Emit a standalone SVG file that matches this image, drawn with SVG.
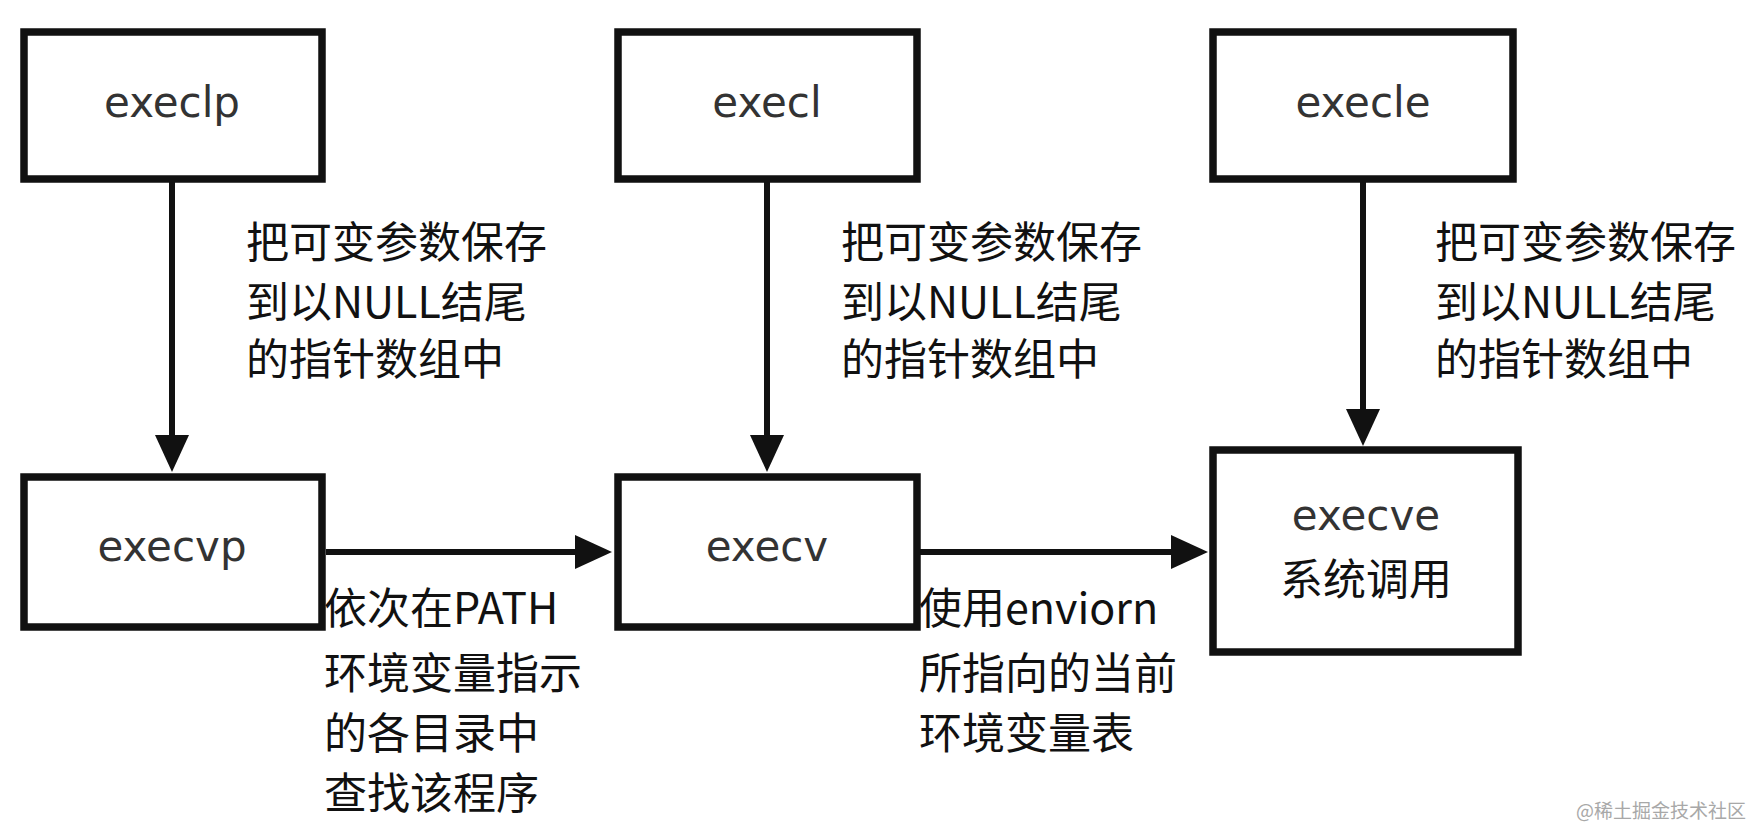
<svg xmlns="http://www.w3.org/2000/svg" width="1750" height="829" viewBox="0 0 1750 829">
<style>
.box{fill:#fff;stroke:#111;stroke-width:7.5}
.nt{font-family:"DejaVu Sans","Noto Sans",sans-serif;font-size:42px;fill:#333;text-anchor:middle}
.lb{font-family:"DejaVu Sans","Noto Sans CJK SC",sans-serif;font-size:43px;fill:#111}
.cj{font-family:"Noto Sans CJK SC",sans-serif;font-size:43px;fill:#111}
.edge{stroke:#111;stroke-width:6;fill:none}
.wm{font-family:"Noto Sans CJK SC",serif;font-size:19px;fill:#a8a8a8;text-anchor:end}
</style>
<defs>
<marker id="ah" markerUnits="userSpaceOnUse" markerWidth="38" markerHeight="36" refX="7" refY="17" orient="auto">
<path d="M0,0 L37,17 L0,34 Z" fill="#111"/>
</marker>
</defs>
<rect width="1750" height="829" fill="#fff"/>
<g id="connectors">
<line class="edge" x1="172" y1="182" x2="172" y2="442" marker-end="url(#ah)"/>
<line class="edge" x1="767" y1="182" x2="767" y2="442" marker-end="url(#ah)"/>
<line class="edge" x1="1363" y1="182" x2="1363" y2="416" marker-end="url(#ah)"/>
<line class="edge" x1="326" y1="552" x2="582" y2="552" marker-end="url(#ah)"/>
<line class="edge" x1="920" y1="552" x2="1178" y2="552" marker-end="url(#ah)"/>
</g>
<g id="labels">
<text class="cj" x="246" y="258">把可变参数保存</text>
<text class="cj" x="246" y="318">到以NULL结尾</text>
<text class="cj" x="246" y="375">的指针数组中</text>
<text class="cj" x="841" y="258">把可变参数保存</text>
<text class="cj" x="841" y="318">到以NULL结尾</text>
<text class="cj" x="841" y="375">的指针数组中</text>
<text class="cj" x="1435" y="258">把可变参数保存</text>
<text class="cj" x="1435" y="318">到以NULL结尾</text>
<text class="cj" x="1435" y="375">的指针数组中</text>
<text class="cj" x="324" y="624">依次在PATH</text>
<text class="cj" x="324" y="689">环境变量指示</text>
<text class="cj" x="324" y="749">的各目录中</text>
<text class="cj" x="324" y="809">查找该程序</text>
<text class="cj" x="919" y="624">使用enviorn</text>
<text class="cj" x="919" y="689">所指向的当前</text>
<text class="cj" x="919" y="749">环境变量表</text>
</g>
<g id="execlp"><rect class="box" x="24" y="32" width="298" height="147"/><text class="nt" x="172" y="117">execlp</text></g>
<g id="execl"><rect class="box" x="618" y="32" width="299" height="147"/><text class="nt" x="767" y="117">execl</text></g>
<g id="execle"><rect class="box" x="1213" y="32" width="300" height="147"/><text class="nt" x="1363" y="117">execle</text></g>
<g id="execvp"><rect class="box" x="24" y="477" width="298" height="150"/><text class="nt" x="172" y="561">execvp</text></g>
<g id="execv"><rect class="box" x="618" y="477" width="299" height="150"/><text class="nt" x="767" y="561">execv</text></g>
<g id="execve"><rect class="box" x="1213" y="450" width="305" height="202"/><text class="nt" x="1366" y="530">execve</text><text class="cj" x="1366" y="595" text-anchor="middle">系统调用</text></g>
<text class="wm" x="1746" y="818">@稀土掘金技术社区</text>
</svg>
